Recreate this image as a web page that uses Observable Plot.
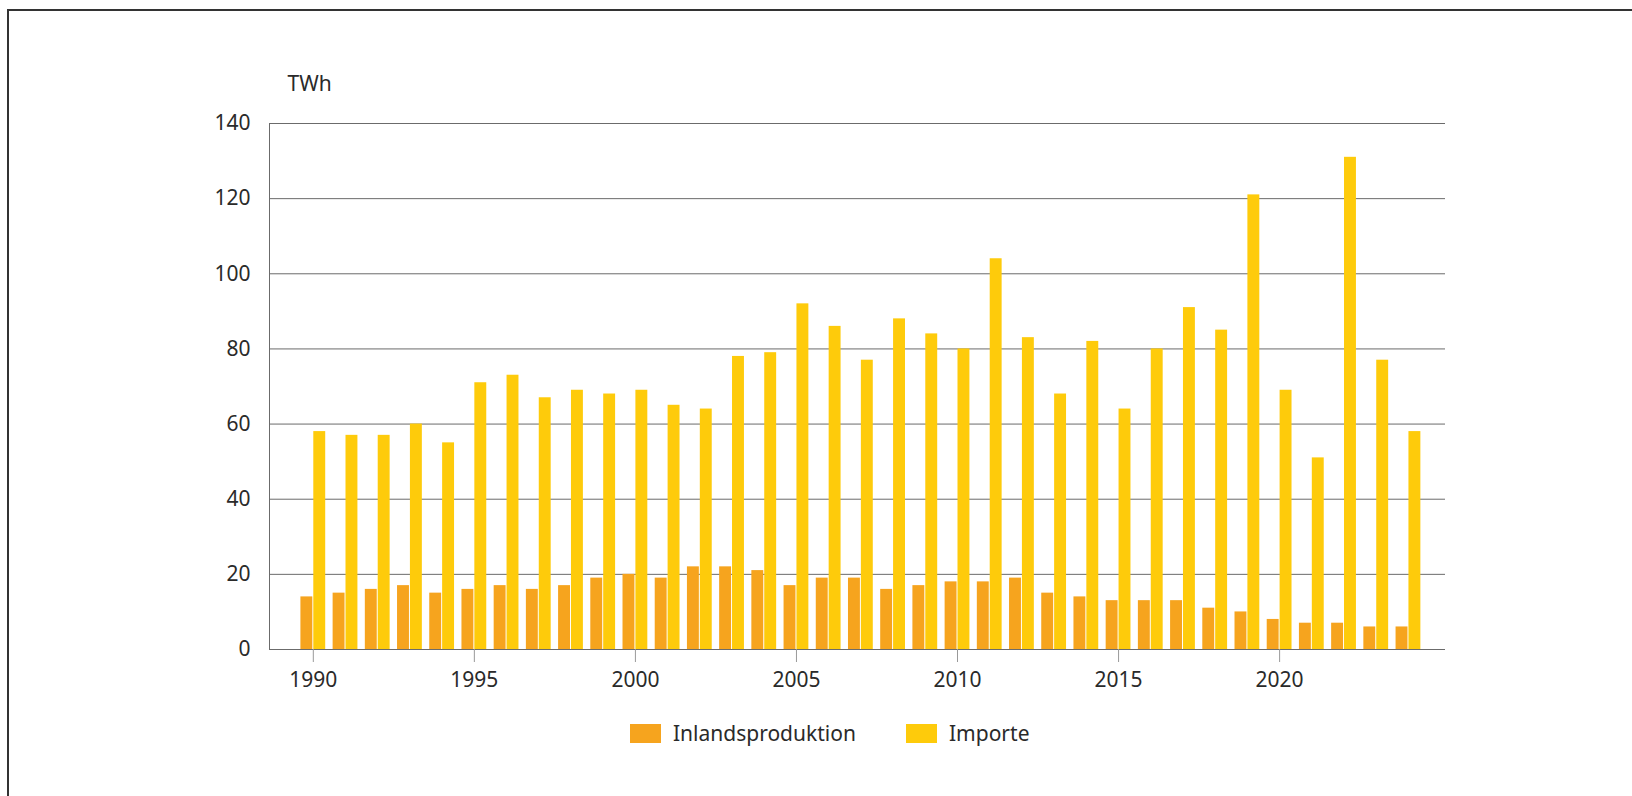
<!DOCTYPE html>
<html>
<head>
<meta charset="utf-8">
<script src="https://cdn.jsdelivr.net/npm/d3@7"></script>
<script src="https://cdn.jsdelivr.net/npm/@observablehq/plot@0.6"></script>
<style>
  html, body { margin: 0; padding: 0; background: #fff; }
  body { width: 1632px; height: 796px; position: relative; overflow: hidden;
         font-family: "Noto Sans", sans-serif; color: #2a2a2a; }
  #frame { position: absolute; left: 7px; top: 9px; right: 0; bottom: 0;
           border-top: 2px solid #333; border-left: 2px solid #333; }
  #chart { position: absolute; left: 0; top: 0; }
  #legend { position: absolute; left: 0; top: 721px; width: 1632px; height: 24px;
            font-size: 21px; color: #2a2a2a; }
  .item { position: absolute; top: 0; display: flex; align-items: center; height: 24px; white-space: nowrap; }
  .sw { width: 31px; height: 19px; margin-right: 12px; }
</style>
</head>
<body>
<div id="frame"></div>
<div id="chart"></div>
<div id="legend"></div>
<script>
const years = [1990,1991,1992,1993,1994,1995,1996,1997,1998,1999,2000,2001,2002,2003,2004,2005,2006,2007,2008,2009,2010,2011,2012,2013,2014,2015,2016,2017,2018,2019,2020,2021,2022,2023,2024];
const inlandsproduktion = [14,15,16,17,15,16,17,16,17,19,20,19,22,22,21,17,19,19,16,17,18,18,19,15,14,13,13,13,11,10,8,7,7,6,6];
const importe = [58,57,57,60,55,71,73,67,69,68,69,65,64,78,79,92,86,77,88,84,80,104,83,68,82,64,80,91,85,121,69,51,131,77,58];
const seriesNames = ["Inlandsproduktion", "Importe"];
const seriesColors = ["#f6a41e", "#fecb0b"];
const yTicks = [0,20,40,60,80,100,120,140];
const xTicks = [1990,1995,2000,2005,2010,2015,2020];
const unitLabel = "TWh";

// layout of each year group: two bars side by side around the year tick
const xDomain = [1988.64, 2025.15];
const barSlots = [[-0.385, -0.015], [0.015, 0.385]];
const legendLeft = [630, 906];

const rows = [];
years.forEach((yr, i) => {
  [inlandsproduktion[i], importe[i]].forEach((v, s) => {
    rows.push({year: yr, series: seriesNames[s], s, value: v});
  });
});

const chart = Plot.plot({
  width: 1632,
  height: 700,
  marginLeft: 269,
  marginRight: 187,
  marginTop: 123,
  marginBottom: 51,
  x: {domain: xDomain},
  y: {domain: [0, 140]},
  style: {
    fontFamily: "'Noto Sans', sans-serif",
    fontSize: "21px",
    color: "#2a2a2a",
    background: "transparent",
    fontVariantNumeric: "oldstyle-nums"
  },
  marks: [
    Plot.gridY(yTicks, {stroke: "#6b6b6b", strokeOpacity: 1, strokeWidth: 1}),
    Plot.ruleX([xDomain[0]], {stroke: "#6b6b6b", strokeWidth: 1}),
    Plot.rect(rows, {
      x1: d => d.year + barSlots[d.s][0],
      x2: d => d.year + barSlots[d.s][1],
      y1: 0,
      y2: "value",
      fill: d => seriesColors[d.s]
    }),
    Plot.axisY({ticks: yTicks, tickSize: 0, tickPadding: 19, label: null}),
    Plot.axisX({ticks: xTicks, tickSize: 13, tickPadding: 10, stroke: "#999", tickFormat: d => String(d), label: null}),
    Plot.text([unitLabel], {frameAnchor: "top-left", dx: 18, dy: -39, textAnchor: "start", lineAnchor: "middle", fontSize: 21})
  ]
});
document.getElementById("chart").appendChild(chart);

const legend = document.getElementById("legend");
seriesNames.forEach((name, i) => {
  const item = document.createElement("div");
  item.className = "item";
  item.style.left = legendLeft[i] + "px";
  const sw = document.createElement("div");
  sw.className = "sw";
  sw.style.background = seriesColors[i];
  const t = document.createElement("span");
  t.textContent = name;
  item.appendChild(sw);
  item.appendChild(t);
  legend.appendChild(item);
});
</script>
</body>
</html>
